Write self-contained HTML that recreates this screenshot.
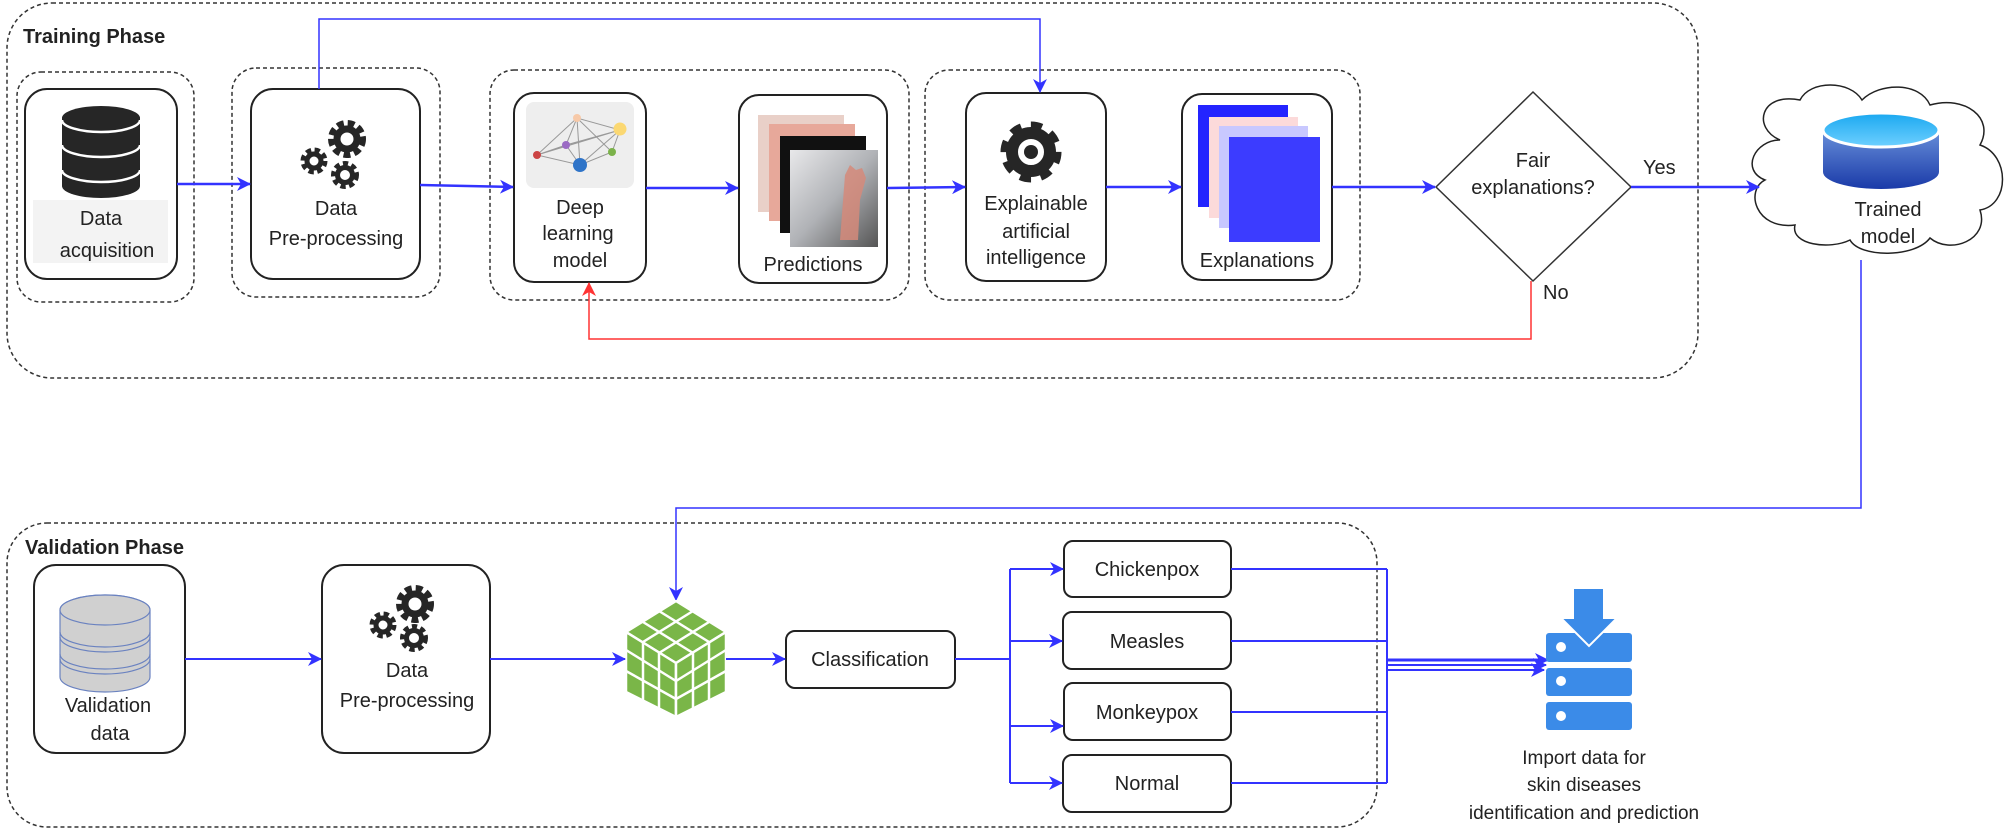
<!DOCTYPE html>
<html><head><meta charset="utf-8"><style>
html,body{margin:0;padding:0;background:#fff;}
svg{display:block;}
text{font-family:"Liberation Sans",Arial,sans-serif;fill:#222;}
</style></head><body>
<svg width="2008" height="830" viewBox="0 0 2008 830" xmlns="http://www.w3.org/2000/svg">
<defs>
<marker id="ab" markerWidth="14" markerHeight="14" refX="13" refY="7" orient="auto" markerUnits="userSpaceOnUse"><path d="M0,0 L14,7 L0,14 L4,7 Z" fill="#3333ff"/></marker>
<marker id="ar" markerWidth="14" markerHeight="14" refX="13" refY="7" orient="auto" markerUnits="userSpaceOnUse"><path d="M0,0 L14,7 L0,14 L4,7 Z" fill="#ff3333"/></marker>
<linearGradient id="cyl" x1="0" y1="0" x2="0" y2="1"><stop offset="0" stop-color="#7fa8e8"/><stop offset="1" stop-color="#1a3aa8"/></linearGradient>
<linearGradient id="cyt" x1="0" y1="0" x2="0" y2="1"><stop offset="0" stop-color="#1aa8f0"/><stop offset="1" stop-color="#6fd0ff"/></linearGradient>
<linearGradient id="hand" x1="0" y1="0" x2="1" y2="1"><stop offset="0" stop-color="#e8e8ea"/><stop offset="0.5" stop-color="#b0b2b6"/><stop offset="1" stop-color="#555"/></linearGradient>
</defs>

<!-- Training Phase outer -->
<rect x="7" y="3" width="1691" height="375" rx="45" fill="none" stroke="#333" stroke-width="1.5" stroke-dasharray="4,3"/>
<text x="23" y="43" font-size="20" font-weight="bold">Training Phase</text>

<rect x="17" y="72" width="177" height="230" rx="24" fill="none" stroke="#333" stroke-width="1.5" stroke-dasharray="4,3"/>
<rect x="232" y="68" width="208" height="229" rx="24" fill="none" stroke="#333" stroke-width="1.5" stroke-dasharray="4,3"/>
<rect x="490" y="70" width="419" height="230" rx="24" fill="none" stroke="#333" stroke-width="1.5" stroke-dasharray="4,3"/>
<rect x="925" y="70" width="435" height="230" rx="24" fill="none" stroke="#333" stroke-width="1.5" stroke-dasharray="4,3"/>

<!-- Data acquisition -->
<rect x="25" y="89" width="152" height="190" rx="22" fill="#fff" stroke="#222" stroke-width="2"/>
<rect x="33" y="200" width="135" height="63" fill="#f3f3f3"/>
<path d="M62,118 a39,12 0 0 1 78,0 v68 a39,12 0 0 1 -78,0 Z" fill="#262626"/>
<g fill="none" stroke="#fff" stroke-width="2.5">
<path d="M62,120 a39,12 0 0 0 78,0"/>
<path d="M62,145 a39,12 0 0 0 78,0"/>
<path d="M62,170 a39,12 0 0 0 78,0"/>
</g>
<text x="101" y="225" font-size="20" text-anchor="middle">Data</text>
<text x="107" y="257" font-size="20" text-anchor="middle">acquisition</text>

<!-- Pre-processing -->
<rect x="251" y="89" width="169" height="190" rx="22" fill="#fff" stroke="#222" stroke-width="2"/>
<g fill="none" stroke="#262626">
<circle cx="347" cy="139" r="14" stroke-width="10" stroke-dasharray="6,3.5"/>
<circle cx="347" cy="139" r="10" stroke-width="7"/>
<circle cx="314" cy="161" r="9.5" stroke-width="8" stroke-dasharray="4.5,3"/>
<circle cx="314" cy="161" r="7" stroke-width="5"/>
<circle cx="345" cy="175" r="10" stroke-width="8" stroke-dasharray="4.5,3"/>
<circle cx="345" cy="175" r="7.5" stroke-width="5"/>
</g>
<text x="336" y="215" font-size="20" text-anchor="middle">Data</text>
<text x="336" y="245" font-size="20" text-anchor="middle">Pre-processing</text>

<!-- Deep learning -->
<rect x="514" y="93" width="132" height="189" rx="20" fill="#fff" stroke="#222" stroke-width="2"/>
<rect x="526" y="102" width="108" height="86" rx="8" fill="#eeeeee"/>
<g stroke="#999" stroke-width="1" fill="none">
<path d="M537,155 L577,118 L620,130 L612,152 L580,165 Z M537,155 L620,130 M577,118 L580,165 M577,118 L612,152 M566,145 L620,130 M566,145 L580,165 M537,155 L566,145 M566,145 L577,118 M580,165 L620,130"/>
</g>
<circle cx="577" cy="118" r="4" fill="#f7c9a8"/>
<circle cx="620" cy="129" r="6.5" fill="#fbd872"/>
<circle cx="566" cy="145" r="4" fill="#9b6bc4"/>
<circle cx="537" cy="155" r="4" fill="#c44"/>
<circle cx="612" cy="152" r="4" fill="#7bb24a"/>
<circle cx="580" cy="165" r="7" fill="#2f74c8"/>
<text x="580" y="214" font-size="20" text-anchor="middle">Deep</text>
<text x="578" y="240" font-size="20" text-anchor="middle">learning</text>
<text x="580" y="267" font-size="20" text-anchor="middle">model</text>

<!-- Predictions -->
<rect x="739" y="95" width="148" height="188" rx="20" fill="#fff" stroke="#222" stroke-width="2"/>
<rect x="758" y="115" width="86" height="97" fill="#e9d0c8"/>
<rect x="769" y="124" width="86" height="97" fill="#e7a89a"/>
<rect x="780" y="136" width="86" height="97" fill="#111"/>
<rect x="790" y="150" width="88" height="97" fill="url(#hand)"/>
<path d="M840,240 L845,175 L850,165 L856,170 L862,168 L866,178 L860,200 L858,240 Z" fill="#d58a7a" opacity="0.85"/>
<text x="813" y="271" font-size="20" text-anchor="middle">Predictions</text>

<!-- XAI -->
<rect x="966" y="93" width="140" height="188" rx="20" fill="#fff" stroke="#222" stroke-width="2"/>
<circle cx="1031" cy="152" r="24" fill="none" stroke="#262626" stroke-width="13" stroke-dasharray="10,8.8"/>
<circle cx="1031" cy="152" r="19" fill="none" stroke="#262626" stroke-width="12"/>
<circle cx="1031" cy="152" r="7" fill="#262626"/>
<text x="1036" y="210" font-size="20" text-anchor="middle">Explainable</text>
<text x="1036" y="238" font-size="20" text-anchor="middle">artificial</text>
<text x="1036" y="264" font-size="20" text-anchor="middle">intelligence</text>

<!-- Explanations -->
<rect x="1182" y="94" width="150" height="186" rx="20" fill="#fff" stroke="#222" stroke-width="2"/>
<rect x="1198" y="105" width="90" height="102" fill="#2424ff"/>
<rect x="1209" y="117" width="89" height="101" fill="#fcdada"/>
<rect x="1219" y="126" width="89" height="102" fill="#c8c8ff"/>
<rect x="1229" y="137" width="91" height="105" fill="#3c3cff"/>
<text x="1257" y="267" font-size="20" text-anchor="middle">Explanations</text>

<!-- Diamond -->
<polygon points="1533,92 1631,187 1533,281 1436,187" fill="#fff" stroke="#333" stroke-width="1.5"/>
<text x="1533" y="167" font-size="20" text-anchor="middle">Fair</text>
<text x="1533" y="194" font-size="20" text-anchor="middle">explanations?</text>
<text x="1643" y="174" font-size="20">Yes</text>
<text x="1543" y="299" font-size="20">No</text>

<!-- Cloud -->
<path d="M1780,140 C1752,128 1760,92 1800,100 C1810,80 1850,80 1862,100 C1880,82 1920,82 1930,105 C1965,95 1995,118 1980,145 C2010,155 2010,205 1980,210 C1990,240 1950,255 1930,238 C1915,258 1860,258 1850,240 C1830,250 1790,245 1795,225 C1755,230 1745,190 1765,180 C1740,170 1755,140 1780,140 Z" fill="#fff" stroke="#222" stroke-width="1.5"/>
<path d="M1823,130 a58,17 0 0 1 116,0 v42 a58,17 0 0 1 -116,0 Z" fill="url(#cyl)"/>
<ellipse cx="1881" cy="130" rx="58" ry="17" fill="url(#cyt)" stroke="#fff" stroke-width="3"/>
<text x="1888" y="216" font-size="20" text-anchor="middle">Trained</text>
<text x="1888" y="243" font-size="20" text-anchor="middle">model</text>

<!-- Training connectors -->
<g stroke="#3333ff" stroke-width="2.5" fill="none">
<line x1="177" y1="184" x2="250" y2="184" marker-end="url(#ab)"/>
<line x1="420" y1="185" x2="513" y2="187" marker-end="url(#ab)"/>
<line x1="646" y1="188" x2="738" y2="188" marker-end="url(#ab)"/>
<line x1="887" y1="188" x2="965" y2="187" marker-end="url(#ab)"/>
<line x1="1106" y1="187" x2="1181" y2="187" marker-end="url(#ab)"/>
<line x1="1332" y1="187" x2="1435" y2="187" marker-end="url(#ab)"/>
<line x1="1631" y1="187" x2="1759" y2="187" marker-end="url(#ab)"/>
<polyline points="319,89 319,19 1040,19 1040,92" marker-end="url(#ab)" stroke-width="1.5"/>
<polyline points="1861,260 1861,508 676,508 676,600" marker-end="url(#ab)" stroke-width="1.5"/>
</g>
<polyline points="1531,281 1531,339 589,339 589,283" fill="none" stroke="#ff3333" stroke-width="1.5" marker-end="url(#ar)"/>

<!-- Validation Phase -->
<rect x="7" y="523" width="1370" height="304" rx="40" fill="none" stroke="#333" stroke-width="1.5" stroke-dasharray="4,3"/>
<text x="25" y="554" font-size="20" font-weight="bold">Validation Phase</text>

<rect x="34" y="565" width="151" height="188" rx="22" fill="#fff" stroke="#222" stroke-width="2"/>
<path d="M60,610 a45,15 0 0 1 90,0 v67 a45,15 0 0 1 -90,0 Z" fill="#d0d0d0" stroke="#6a82c0" stroke-width="1.2"/>
<ellipse cx="105" cy="610" rx="45" ry="15" fill="#d0d0d0" stroke="#6a82c0" stroke-width="1.2"/>
<g fill="none" stroke="#6a82c0" stroke-width="1.2">
<path d="M60,632 a45,15 0 0 0 90,0"/><path d="M60,637 a45,15 0 0 0 90,0"/>
<path d="M60,654 a45,15 0 0 0 90,0"/><path d="M60,659 a45,15 0 0 0 90,0"/>
</g>
<text x="108" y="712" font-size="20" text-anchor="middle">Validation</text>
<text x="110" y="740" font-size="20" text-anchor="middle">data</text>

<rect x="322" y="565" width="168" height="188" rx="22" fill="#fff" stroke="#222" stroke-width="2"/>
<g fill="none" stroke="#262626">
<circle cx="415" cy="604" r="14" stroke-width="10" stroke-dasharray="6,3.5"/>
<circle cx="415" cy="604" r="10" stroke-width="7"/>
<circle cx="383" cy="625" r="9.5" stroke-width="8" stroke-dasharray="4.5,3"/>
<circle cx="383" cy="625" r="7" stroke-width="5"/>
<circle cx="414" cy="638" r="10" stroke-width="8" stroke-dasharray="4.5,3"/>
<circle cx="414" cy="638" r="7.5" stroke-width="5"/>
</g>
<text x="407" y="677" font-size="20" text-anchor="middle">Data</text>
<text x="407" y="707" font-size="20" text-anchor="middle">Pre-processing</text>

<!-- cube -->
<g fill="#7ab648" stroke="#fff" stroke-width="2.5" stroke-linejoin="round">
<polygon points="676,601 726,632 676,663 626,632"/>
<polygon points="626,632 676,663 676,717 626,692"/>
<polygon points="676,663 726,632 726,692 676,717"/>
</g>
<g stroke="#fff" stroke-width="2.5" fill="none">
<line x1="659" y1="611" x2="709" y2="642"/><line x1="643" y1="622" x2="693" y2="653"/>
<line x1="693" y1="611" x2="643" y2="642"/><line x1="709" y1="622" x2="659" y2="653"/>
<line x1="643" y1="642" x2="643" y2="700"/><line x1="659" y1="653" x2="659" y2="709"/>
<line x1="693" y1="653" x2="693" y2="709"/><line x1="709" y1="642" x2="709" y2="700"/>
<line x1="626" y1="650" x2="676" y2="681"/><line x1="626" y1="671" x2="676" y2="699"/>
<line x1="726" y1="650" x2="676" y2="681"/><line x1="726" y1="671" x2="676" y2="699"/>
</g>

<rect x="786" y="631" width="169" height="57" rx="9" fill="#fff" stroke="#222" stroke-width="2"/>
<text x="870" y="666" font-size="20" text-anchor="middle">Classification</text>

<g font-size="20" text-anchor="middle">
<rect x="1064" y="541" width="167" height="56" rx="9" fill="#fff" stroke="#222" stroke-width="2"/>
<text x="1147" y="576">Chickenpox</text>
<rect x="1063" y="612" width="168" height="57" rx="9" fill="#fff" stroke="#222" stroke-width="2"/>
<text x="1147" y="648">Measles</text>
<rect x="1064" y="683" width="167" height="57" rx="9" fill="#fff" stroke="#222" stroke-width="2"/>
<text x="1147" y="719">Monkeypox</text>
<rect x="1063" y="755" width="168" height="57" rx="9" fill="#fff" stroke="#222" stroke-width="2"/>
<text x="1147" y="790">Normal</text>
</g>

<g stroke="#3333ff" stroke-width="2" fill="none">
<line x1="185" y1="659" x2="321" y2="659" marker-end="url(#ab)"/>
<line x1="490" y1="659" x2="625" y2="659" marker-end="url(#ab)"/>
<line x1="726" y1="659" x2="785" y2="659" marker-end="url(#ab)"/>
<line x1="955" y1="659" x2="1010" y2="659"/>
<line x1="1010" y1="569" x2="1010" y2="783"/>
<line x1="1010" y1="569" x2="1063" y2="569" marker-end="url(#ab)"/>
<line x1="1010" y1="641" x2="1062" y2="641" marker-end="url(#ab)"/>
<line x1="1010" y1="726" x2="1063" y2="726" marker-end="url(#ab)"/>
<line x1="1010" y1="783" x2="1062" y2="783" marker-end="url(#ab)"/>
<line x1="1231" y1="569" x2="1387" y2="569"/>
<line x1="1231" y1="641" x2="1387" y2="641"/>
<line x1="1231" y1="712" x2="1387" y2="712"/>
<line x1="1231" y1="783" x2="1387" y2="783"/>
<line x1="1387" y1="569" x2="1387" y2="783"/>
<line x1="1387" y1="660" x2="1548" y2="660" stroke-width="3" marker-end="url(#ab)"/>
<line x1="1387" y1="665" x2="1546" y2="665" stroke-width="2" marker-end="url(#ab)"/>
<line x1="1387" y1="670" x2="1544" y2="670" stroke-width="2" marker-end="url(#ab)"/>
</g>

<!-- import icon -->
<g fill="#3b8be8">
<rect x="1546" y="633" width="86" height="29" rx="3"/>
<rect x="1546" y="668" width="86" height="28" rx="3"/>
<rect x="1546" y="702" width="86" height="28" rx="3"/>
<path d="M1573,588 h31 v30 h13 l-28,28 l-28,-28 h12 Z" stroke="#fff" stroke-width="2"/>
</g>
<g fill="#fff"><circle cx="1561" cy="647" r="5"/><circle cx="1561" cy="681" r="5"/><circle cx="1561" cy="716" r="5"/></g>
<text x="1584" y="764" font-size="19" text-anchor="middle">Import data for</text>
<text x="1584" y="791" font-size="19" text-anchor="middle">skin diseases</text>
<text x="1584" y="819" font-size="19" text-anchor="middle">identification and prediction</text>
</svg>
</body></html>
